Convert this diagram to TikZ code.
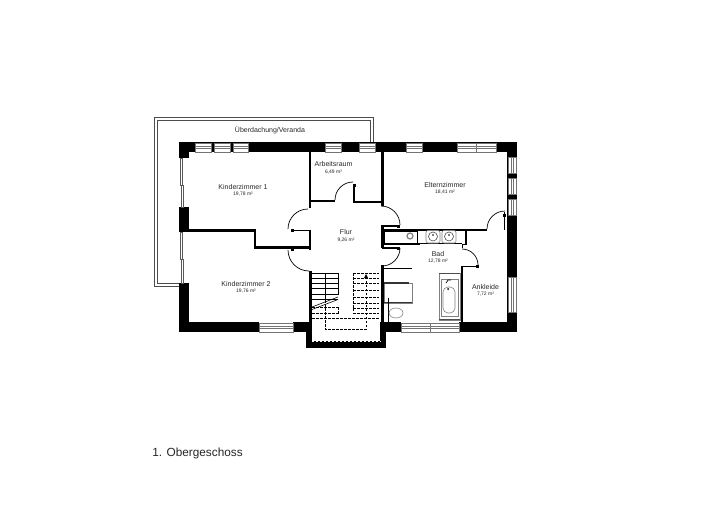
\documentclass[tikz,border=0pt]{standalone}
\usepackage{fontspec}
\setmainfont{Liberation Sans}
\usepackage{tikz}

\begin{document}
\begin{tikzpicture}[x=1pt, y=-1pt, thick,
    wall/.style={fill=black},
    glass/.style={draw=black!55, fill=white, line width=.5pt},
    swing/.style={draw=black, line width=.7pt},
    jamb/.style={fill=black},
    tread/.style={draw=black, line width=.6pt},
    hidden/.style={draw=black, line width=.7pt, dash pattern=on 2.5pt off 1.5pt},
    fitting/.style={draw=black!50, fill=white, line width=.6pt},
    room/.style={font=\fontsize{7}{8}\selectfont, inner sep=0pt, text=black!85},
    area/.style={font=\fontsize{5}{6}\selectfont, inner sep=0pt, text=black!85}]
  \useasboundingbox (0,0) rectangle (720,508);

  % veranda roof
  \draw[draw=black!70, line width=.7pt] (179,286) -- (154,286) -- (154,117) -- (373,117) -- (373,143);
  \draw[draw=black!70, line width=.7pt] (179,283) -- (157,283) -- (157,120) -- (370,120) -- (370,143);

  % outer walls
  \fill[wall] (179,142.5) rectangle (517,152);
  \fill[wall] (179,142.5) rectangle (189,158);
  \fill[wall] (179,207) rectangle (189,232);
  \fill[wall] (179,283) rectangle (189,332);
  \fill[wall] (507,142.5) rectangle (517,332);
  \fill[wall] (179,322) rectangle (259,332);
  \fill[wall] (293,322) rectangle (312,332);
  \fill[wall] (380,322) rectangle (401,332);
  \fill[wall] (459,322) rectangle (517,332);
  \fill[wall] (306,322) rectangle (312,348);
  \fill[wall] (380,322) rectangle (386,348);
  \fill[wall] (306,341) rectangle (386,348);

  % inner walls
  \fill[wall] (189,229) rectangle (256,232);
  \fill[wall] (254,229) rectangle (256,248);
  \fill[wall] (254,246) rectangle (311,248.5);
  \fill[wall] (308.5,152) rectangle (311,208);
  \fill[wall] (308.5,230) rectangle (311,250);
  \fill[wall] (309,271) rectangle (312,322);
  \fill[wall] (309,200) rectangle (335,202);
  \fill[wall] (353,185) rectangle (355,202);
  \fill[wall] (353,200.5) rectangle (384,202.5);
  \fill[wall] (381,152) rectangle (384,206);
  \fill[wall] (381,225) rectangle (384,248);
  \fill[wall] (381,265) rectangle (384,322);
  \fill[wall] (381,229) rectangle (487,231);
  \fill[wall] (381,243) rectangle (420,245);
  \fill[wall] (465,231) rectangle (467,245);
  \fill[wall] (462,243.5) rectangle (467,245);
  \fill[wall] (461.5,243.5) rectangle (463,248);
  \fill[wall] (461,266) rectangle (463,322);
  \fill[wall] (461,265.5) rectangle (478,267);
  \fill[wall] (382,225) rectangle (400,226.5);
  \fill[wall] (382,247) rectangle (400,248.5);

  % windows
  \foreach \xa/\xb in {195/211, 214/230, 233/248, 325/341, 359/375, 406/422, 457/476.5, 476.5/496} {
    \draw[glass] (\xa,143) rectangle (\xb,152);
    \draw[glass] (\xa,146.5) -- (\xb,146.5) (\xa,148.5) -- (\xb,148.5);
  }
  \foreach \xa/\xb in {259/293, 401/430, 430/459} {
    \draw[glass] (\xa,323) rectangle (\xb,332);
    \draw[glass] (\xa,326.5) -- (\xb,326.5) (\xa,328.5) -- (\xb,328.5);
  }
  \foreach \ya/\yb in {157/173, 178/194, 199/215, 277/312} {
    \draw[glass] (508,\ya) rectangle (516,\yb);
    \draw[glass] (511,\ya) -- (511,\yb) (513,\ya) -- (513,\yb);
  }
  \foreach \xa/\xb/\ya/\yb in {180/182/158/185, 181/183/185/207, 180/182/232/259, 181/183.5/259/283}
    \draw[glass, draw=black!65, line width=.6pt] (\xa,\ya) rectangle (\xb,\yb);

  % doors
  \draw[swing] (288,229) arc[start angle=180, end angle=270, radius=20];
  \draw[swing] (288,250) arc[start angle=180, end angle=90, radius=21];
  \draw[swing] (335,200) arc[start angle=180, end angle=270, radius=18];
  \draw[swing] (381,206) arc[start angle=270, end angle=360, radius=19];
  \draw[swing] (400,248) arc[start angle=0, end angle=90, radius=18];
  \draw[swing] (487,229) arc[start angle=180, end angle=270, radius=18];
  \draw[swing] (462,249) arc[start angle=270, end angle=360, radius=16];
  \draw[swing] (292,230) -- (309,230);
  \draw[swing] (504.5,212) -- (504.5,230);
  \foreach \jx/\jy in {292/230, 292/249, 354/185.5, 398/226, 398/248, 504.5/215, 477/266, 388/298}
    \fill[jamb] (\jx-1.5,\jy-1.5) rectangle (\jx+1.5,\jy+1.5);

  % stairs
  \foreach \sy in {273, 278, 283, 288, 294, 299}
    \draw[tread] (312,\sy) -- (338,\sy);
  \draw[tread] (338,273) -- (338,295);
  \draw[tread] (325,273) -- (325,303);
  \draw[tread] (312,307) -- (338,297);
  \draw[tread] (312,309.5) -- (338,299.5);
  \foreach \sy in {307, 313}
    \draw[hidden] (312,\sy) -- (338,\sy);
  \draw[hidden] (312,318) -- (380,318);
  \draw[hidden] (325,304) -- (325,329) -- (366,329) -- (366,277);
  \fill[black] (366,274) -- (368,278) -- (364,278) -- cycle;
  \foreach \sy in {273, 278, 283, 290, 297, 303, 308, 313}
    \draw[hidden] (353,\sy) -- (379,\sy);
  \draw[hidden] (353,273) -- (353,311);
  \draw[hidden] (338,307) -- (338,315);
  \draw[draw=white, line width=.8pt, dash pattern=on 2pt off 2pt] (312.5,332) -- (312.5,341) -- (380,341);

  % bath room
  \draw[swing] (383,268) -- (412,268);
  \draw[draw=black!50, fill=white, line width=1pt] (384,283) rectangle (412,303);
  \draw[line width=1.2pt, draw=black!80] (384,283) -- (409,283);
  \draw[line width=1.2pt, draw=black!80] (384,302.5) -- (412,302.5);
  \draw[swing] (388,298) -- (388,322);
  \draw[fitting] (396,313) ellipse[x radius=7, y radius=5];
  \draw[swing] (384,231) rectangle (417,243);
  \draw[swing] (417,231) -- (417,243) (420,243.5) -- (462,243.5);
  \draw[draw=black!50, line width=1.2pt] (410,236) circle[radius=3];
  \foreach \bx in {433, 449} {
    \draw[fitting, rounded corners=2pt] (\bx-7,230.5) rectangle (\bx+7,243);
    \draw[fitting, draw=black!70] (\bx,236.5) circle[radius=4.5];
    \fill[black] (\bx,235) circle[radius=.8];
  }
  \draw[fitting] (439,273) rectangle (460,320);
  \draw[fitting] (441,279) rectangle (458,316);
  \draw[fitting, rounded corners=5pt] (443,287) rectangle (455,313);
  \draw[line width=1pt, draw=black!70] (439,273.5) -- (460,273.5) (439,319) -- (460,319);
  \fill[black] (448,289) circle[radius=1];
  \draw[line width=.7pt] (446,283) -- (448,280) -- (451,280);

  % labels
  \node[room] (veranda) at (270,130) {Überdachung/Veranda};
  \node[room] (kind1) at (243,187) {Kinderzimmer 1};
  \node[area] (kind1a) at (243,194.5) {19,78 m²};
  \node[room] (arbeit) at (333.5,164) {Arbeitsraum};
  \node[area] (arbeita) at (333.5,172) {6,49 m²};
  \node[room] (eltern) at (445,185) {Elternzimmer};
  \node[area] (elterna) at (445,192.5) {18,41 m²};
  \node[room] (flur) at (346,232) {Flur};
  \node[area] (flura) at (346,240) {9,26 m²};
  \node[room] (bad) at (438,254) {Bad};
  \node[area] (bada) at (438,261) {12,78 m²};
  \node[room] (ankl) at (485.5,287) {Ankleide};
  \node[area] (ankla) at (485.5,294) {7,72 m²};
  \node[room] (kind2) at (246,284) {Kinderzimmer 2};
  \node[area] (kind2a) at (246,291) {19,76 m²};
  \node[anchor=base west, inner sep=0pt, font=\fontsize{11.8}{14}\selectfont, text=black!85] (title) at (152,456) {1. Obergeschoss};
\end{tikzpicture}
\end{document}
